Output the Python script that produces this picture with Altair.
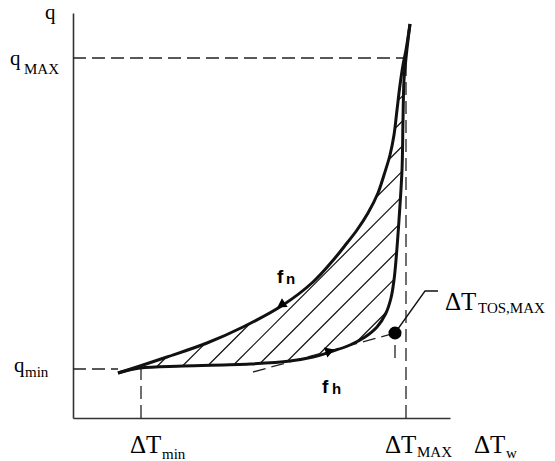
import altair as alt
import numpy as np
import pandas as pd

# Boiling curve hysteresis: wall superheat dT_w vs heat flux q (arbitrary units)
# Heating branch f_h (lower curve)
heat_dT = [45, 67, 110, 177, 217, 240, 257, 277, 292, 304, 313, 318, 321, 323, 326, 329, 330, 331, 333, 335, 337]
heat_q = [45, 50, 52, 54, 57, 61, 66, 73, 81, 91, 105, 120, 138, 158, 198, 248, 298, 338, 360, 378, 394]

# Cooling branch f_n (upper curve)
cool_dT = [337, 333, 330, 327, 324, 321, 317, 311, 305, 295, 284, 274, 262, 240, 210, 170, 134, 94, 67, 45]
cool_q = [394, 368, 353, 333, 308, 283, 263, 243, 225, 205, 188, 175, 160, 136, 113, 91, 75, 61, 52, 45]

# Characteristic levels
q_max, q_min = 360, 49
dT_max, dT_min = 333, 68
dT_tos, q_tos = 322, 85          # temperature overshoot point
tangent_start = (180, 46)
leader_dT = [322, 352, 365]
leader_q = [85, 127, 127]

X_DOMAIN = [0, 377]
Y_DOMAIN = [0, 405]

xs = alt.Scale(domain=X_DOMAIN, nice=False, zero=False)
ys = alt.Scale(domain=Y_DOMAIN, nice=False, zero=False)
ax = alt.Axis(domain=True, ticks=False, labels=False, grid=False, title=None,
              domainColor="#333", domainWidth=1.6)

heat = pd.DataFrame({"dT": heat_dT, "q": heat_q, "o": range(len(heat_dT))})
cool = pd.DataFrame({"dT": cool_dT, "q": cool_q, "o": range(len(cool_dT))})

# Hatching: 45-degree lines clipped to the region between the two branches
poly = np.array(list(zip(heat_dT, heat_q)) + list(zip(cool_dT[1:-1], cool_q[1:-1])), dtype=float)
segs = []
for c in np.arange(-258, 60, 25) + 0.5:
    pts = []
    n = len(poly)
    for i in range(n):
        p1, p2 = poly[i], poly[(i + 1) % n]
        f1 = p1[1] - p1[0] - c
        f2 = p2[1] - p2[0] - c
        if (f1 > 0) != (f2 > 0):
            t = f1 / (f1 - f2)
            pts.append(p1 + t * (p2 - p1))
    pts.sort(key=lambda p: p[0])
    for a, b in zip(pts[0::2], pts[1::2]):
        segs.append({"x": a[0], "y": a[1], "x2": b[0], "y2": b[1]})
hatch = pd.DataFrame(segs)

dashed = pd.DataFrame([
    {"x": 0, "y": q_max, "x2": dT_max, "y2": q_max},
    {"x": dT_max, "y": 0, "x2": dT_max, "y2": q_max},
    {"x": 0, "y": q_min, "x2": heat_dT[0], "y2": q_min},
    {"x": dT_min, "y": 0, "x2": dT_min, "y2": q_min},
    {"x": dT_tos, "y": 60, "x2": dT_tos, "y2": q_tos},
    {"x": tangent_start[0], "y": tangent_start[1], "x2": dT_tos, "y2": q_tos},
])

axes = alt.Chart(pd.DataFrame({"x": [0], "y": [0]})).mark_point(opacity=0).encode(
    x=alt.X("x:Q", scale=xs, axis=ax), y=alt.Y("y:Q", scale=ys, axis=ax))

hatch_layer = alt.Chart(hatch).mark_rule(color="#111", strokeWidth=1.2).encode(
    x=alt.X("x:Q", scale=xs), y=alt.Y("y:Q", scale=ys), x2="x2:Q", y2="y2:Q")

dash_layer = alt.Chart(dashed).mark_rule(color="#222", strokeWidth=1.3, strokeDash=[13, 6]).encode(
    x=alt.X("x:Q", scale=xs), y=alt.Y("y:Q", scale=ys), x2="x2:Q", y2="y2:Q")

heat_line = alt.Chart(heat).mark_line(color="#111", strokeWidth=3, interpolate="catmull-rom").encode(
    x=alt.X("dT:Q", scale=xs), y=alt.Y("q:Q", scale=ys), order="o:Q")
cool_line = alt.Chart(cool).mark_line(color="#111", strokeWidth=3, interpolate="catmull-rom").encode(
    x=alt.X("dT:Q", scale=xs), y=alt.Y("q:Q", scale=ys), order="o:Q")

leader = alt.Chart(pd.DataFrame({"x": leader_dT, "y": leader_q, "o": [0, 1, 2]})).mark_line(
    color="#111", strokeWidth=1.3).encode(
    x=alt.X("x:Q", scale=xs), y=alt.Y("y:Q", scale=ys), order="o:Q")

dot = alt.Chart(pd.DataFrame({"x": [dT_tos], "y": [q_tos]})).mark_point(
    filled=True, color="#000", size=170, opacity=1).encode(
    x=alt.X("x:Q", scale=xs), y=alt.Y("y:Q", scale=ys))

# Direction arrows on both branches
arrows = alt.Chart(pd.DataFrame({"x": [208, 257], "y": [113, 67], "a": [237, 72]})).mark_point(
    filled=True, color="#000", size=110, opacity=1, shape="triangle-up").encode(
    x=alt.X("x:Q", scale=xs), y=alt.Y("y:Q", scale=ys), angle=alt.Angle("a:Q", scale=None))

serif_labels = pd.DataFrame([
    {"x": -28, "y": 399, "t": "q", "s": 21},
    {"x": -63, "y": 353, "t": "q", "s": 21},
    {"x": -49, "y": 344, "t": "MAX", "s": 15},
    {"x": -59, "y": 46, "t": "q", "s": 21},
    {"x": -48, "y": 41, "t": "min", "s": 15},
    {"x": 57, "y": -35, "t": "ΔT", "s": 25},
    {"x": 89, "y": -41, "t": "min", "s": 15},
    {"x": 312, "y": -35, "t": "ΔT", "s": 25},
    {"x": 344, "y": -39, "t": "MAX", "s": 15},
    {"x": 401, "y": -35, "t": "ΔT", "s": 25},
    {"x": 433, "y": -40, "t": "w", "s": 15},
    {"x": 372, "y": 108, "t": "ΔT", "s": 25},
    {"x": 405, "y": 105, "t": "TOS,MAX", "s": 15},
])
sans_labels = pd.DataFrame([
    {"x": 204, "y": 135, "t": "f", "s": 19},
    {"x": 213, "y": 134, "t": "n", "s": 15},
    {"x": 249, "y": 25, "t": "f", "s": 19},
    {"x": 259, "y": 24, "t": "h", "s": 15},
])

serif_text = alt.Chart(serif_labels).mark_text(
    font="Liberation Serif", align="left", baseline="alphabetic", color="#000").encode(
    x=alt.X("x:Q", scale=xs), y=alt.Y("y:Q", scale=ys), text="t:N", size=alt.Size("s:Q", scale=None))
sans_text = alt.Chart(sans_labels).mark_text(
    font="Liberation Sans", fontWeight="bold", align="left", baseline="alphabetic", color="#000").encode(
    x=alt.X("x:Q", scale=xs), y=alt.Y("y:Q", scale=ys), text="t:N", size=alt.Size("s:Q", scale=None))

chart = alt.layer(
    axes, hatch_layer, dash_layer, heat_line, cool_line, leader, dot, arrows, serif_text, sans_text
).properties(
    width=377, height=405,
    autosize=alt.AutoSizeParams(type="none"),
    padding={"left": 73, "top": 13, "right": 105, "bottom": 43},
    background="white",
).configure_view(stroke=None)

chart.save("out.html", embed_options={"renderer": "svg", "actions": False})
